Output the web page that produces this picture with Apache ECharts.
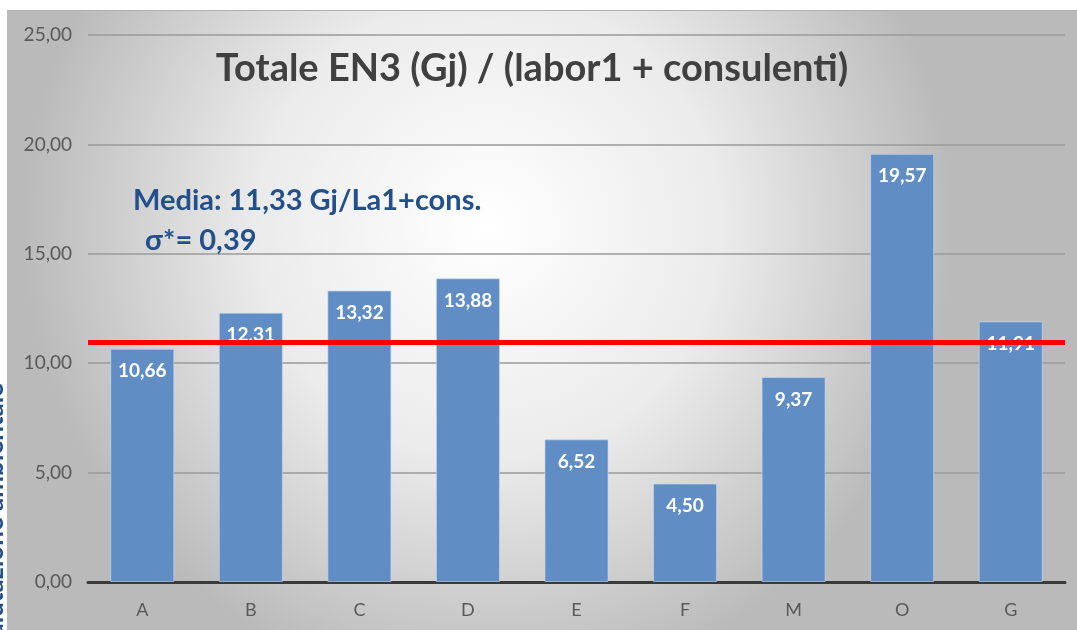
<!DOCTYPE html>
<html>
<head>
<meta charset="utf-8">
<script src="https://cdn.jsdelivr.net/npm/echarts@6/dist/echarts.min.js"></script>
<style>
html,body{margin:0;padding:0;background:#fff;}
#chart{width:1077px;height:630px;}
</style>
</head>
<body>
<div id="chart"></div>
<script>
const categories = ['A','B','C','D','E','F','M','O','G'];
const values = [10.66,12.31,13.32,13.88,6.52,4.50,9.37,19.57,11.91];
const refLineValue = 10.97;
const titleText = 'Totale EN3 (Gj) / (labor1 + consulenti)';
const noteLine1 = 'Media: 11,33 Gj/La1+cons.';
const noteLine2 = 'σ*= 0,39';
const sideText = 'Valutazione ambientale';

const fmt = v => v.toFixed(2).replace('.', ',');

const chart = echarts.init(document.getElementById('chart'));
chart.setOption({
  backgroundColor: '#ffffff',
  animation: false,
  title: {
    text: titleText,
    left: 527, top: 45, textAlign: 'center',
    textStyle: {fontFamily: 'Lato', fontWeight: 'bold', fontSize: 38, color: '#404040'}
  },
  graphic: [
    {type: 'rect', z: -10, silent: true, shape: {x: 7, y: 10, width: 1070, height: 620},
     style: {fill: {type: 'radial', x: 0.45, y: 0.35, r: 0.75,
       colorStops: [{offset: 0, color: '#ffffff'}, {offset: 0.5, color: '#ebebeb'}, {offset: 1, color: '#bababa'}]}}},
    {type: 'line', z: -9, silent: true, shape: {x1: 7, y1: 10.5, x2: 1077, y2: 10.5}, style: {stroke: '#b0b0b0', lineWidth: 1}},
    {type: 'text', z: 20, left: 133, top: 186, style: {text: noteLine1, fontFamily: 'Lato', fontWeight: 'bold', fontSize: 29, fill: '#23508a'}},
    {type: 'text', z: 20, left: 145, top: 226, style: {text: noteLine2, fontFamily: 'Lato', fontWeight: 'bold', fontSize: 29, fill: '#23508a'}},
    {type: 'text', z: 20, x: 8, y: 383, rotation: Math.PI / 2,
     style: {text: sideText, fontFamily: 'Lato', fontWeight: 'bold', fontSize: 26, fill: '#23508a', textAlign: 'right', textVerticalAlign: 'bottom'}}
  ],
  grid: {left: 88, right: 12, top: 35, bottom: 48, containLabel: false},
  xAxis: {
    type: 'category', data: categories,
    axisLine: {lineStyle: {color: '#3a3a3a', width: 3}},
    axisTick: {show: false},
    axisLabel: {color: '#595959', fontSize: 18, fontFamily: 'Lato', margin: 19}
  },
  yAxis: {
    type: 'value', min: 0, max: 25, interval: 5,
    axisLine: {show: false}, axisTick: {show: false},
    splitLine: {lineStyle: {color: '#9a9a9a', width: 1.5}},
    axisLabel: {color: '#595959', fontSize: 19, fontFamily: 'Lato', margin: 16, formatter: v => fmt(v)}
  },
  series: [
    {
      type: 'bar', data: values, barCategoryGap: '41%', z: 2,
      itemStyle: {color: '#608dc4', borderColor: 'rgba(200,220,245,0.6)', borderWidth: 1},
      label: {show: true, position: 'insideTop', distance: 13, color: '#ffffff', fontFamily: 'Lato', fontWeight: 'bold', fontSize: 19, formatter: p => fmt(p.value)}
    },
    {
      type: 'line', data: [], z: 10,
      markLine: {
        silent: true, symbol: ['none', 'none'], label: {show: false},
        lineStyle: {color: '#ff0000', width: 5, type: 'solid'},
        data: [{yAxis: refLineValue}]
      }
    }
  ]
});
</script>
</body>
</html>
